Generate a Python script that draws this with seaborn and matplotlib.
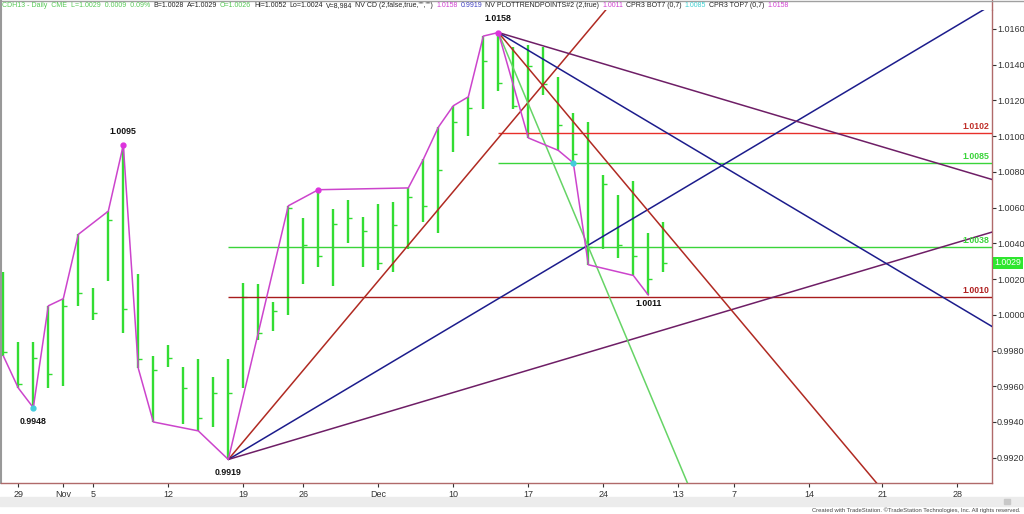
import numpy as np
import pandas as pd
import matplotlib
matplotlib.use("Agg")
import matplotlib.pyplot as plt
from matplotlib.lines import Line2D
from matplotlib.patches import Rectangle
import seaborn as sns

# daily OHLC bars (x = trading day index, 0 = Oct 26 2012 ... 44 = Dec 31 2012)
highs = [1.0024, 0.9985, 0.9985, 1.0005, 1.0009, 1.0045, 1.0015, 1.0058, 1.0095, 1.0023,
         0.9977, 0.9983, 0.9971, 0.9975, 0.9965, 0.9975, 1.0018, 1.0017, 1.0007, 1.0061,
         1.0054, 1.0070, 1.0059, 1.0064, 1.0055, 1.0062, 1.0063, 1.0071, 1.0087, 1.0105,
         1.0117, 1.0122, 1.0156, 1.0158, 1.0150, 1.0151, 1.0150, 1.0133, 1.0113, 1.0108,
         1.0078, 1.0067, 1.0075, 1.0046, 1.0052]
lows = [0.9977, 0.9959, 0.9948, 0.9959, 0.9960, 1.0005, 0.9997, 1.0019, 0.9990, 0.9970,
        0.9940, 0.9971, 0.9939, 0.9935, 0.9937, 0.9919, 0.9959, 0.9986, 0.9991, 1.0000,
        1.0017, 1.0027, 1.0016, 1.0040, 1.0027, 1.0025, 1.0024, 1.0037, 1.0052, 1.0046,
        1.0091, 1.0100, 1.0115, 1.0125, 1.0115, 1.0099, 1.0123, 1.0092, 1.0085, 1.0028,
        1.0037, 1.0032, 1.0022, 1.0011, 1.0024]
closes = [0.9979, 0.9961, 0.9976, 0.9967, 1.0005, 1.0012, 1.0001, 1.0053, 1.0003, 0.9975,
          0.9969, 0.9976, 0.9959, 0.9942, 0.9956, 0.9956, 1.0010, 0.9990, 1.0002, 1.0060,
          1.0039, 1.0033, 1.0051, 1.0054, 1.0047, 1.0029, 1.0050, 1.0066, 1.0061, 1.0081,
          1.0108, 1.0116, 1.0142, 1.0130, 1.0117, 1.0139, 1.0129, 1.0106, 1.0090, 1.0038,
          1.0073, 1.0039, 1.0033, 1.0020, 1.0029]

# trend-point zigzag
zz_idx = [0, 1, 2, 3, 4, 5, 7, 8, 9, 10, 13, 15, 19, 21, 27, 28, 29, 30, 31, 32, 33,
          35, 37, 38, 39, 42, 43]
zz_px = [0.9977, 0.9959, 0.9948, 1.0005, 1.0009, 1.0045, 1.0058, 1.0095, 0.9970, 0.9940,
         0.9935, 0.9919, 1.0061, 1.0070, 1.0071, 1.0087, 1.0105, 1.0117, 1.0122, 1.0156,
         1.0158, 1.0099, 1.0092, 1.0085, 1.0028, 1.0022, 1.0011]

top_idx = [8, 21, 33]
top_px = [1.0095, 1.0070, 1.0158]
bot_idx = [2, 38]
bot_px = [0.9948, 1.0085]

swing_lbl = ["1.0095", "0.9948", "0.9919", "1.0158", "1.0011"]
swing_idx = [8, 2, 15, 33, 43]
swing_val = [1.0095, 0.9948, 0.9919, 1.0158, 1.0011]

# gann fans (price per bar)
low_anchor = (15, 0.9919)
low_rates = [0.0010, 0.0005, 0.00025]
high_anchor = (33, 1.0158)
high_rates = [-0.0020, -0.0010, -0.0005, -0.00025]

# horizontal levels
lvl_val = [1.0102, 1.0085, 1.0038, 1.0010]
lvl_start = [33, 33, 15, 15]

last_px = 1.0029

tick_pos = [1, 4, 6, 11, 16, 20, 25, 30, 35, 40, 45, 48.7, 53.7, 58.6, 63.6]
tick_lbl = ["29", "Nov", "5", "12", "19", "26", "Dec", "10", "17", "24", "'13", "7", "14", "21", "28"]

header = [("CDH13 - Daily  CME  L=1.0029  0.0009  0.09%", "#55c855"),
          ("B=1.0028", "#222222"), ("A=1.0029", "#222222"), ("O=1.0026", "#55c855"),
          ("Hi=1.0052", "#222222"), ("Lo=1.0024", "#222222"), ("V=8,984", "#222222"),
          ('NV CD (2,false,true,"","")', "#222222"), ("1.0158", "#d040d0"), ("0.9919", "#4040c0"),
          ("NV PLOTTRENDPOINTS#2 (2,true)", "#222222"), ("1.0011", "#d040d0"),
          ("CPR3 BOT7 (0,7)", "#222222"), ("1.0085", "#40d0d0"),
          ("CPR3 TOP7 (0,7)", "#222222"), ("1.0158", "#d040d0")]

# colours
bar_c = "#33dd33"
mag = "#cc44cc"
fan_red = "#b02a22"
fan_blue = "#1c1c8c"
fan_purple = "#6e1e66"
fan_green = "#66d466"
axis_c = "#b06a6a"

sns.set_style("white")
plt.rcParams["font.family"] = ["Liberation Sans", "DejaVu Sans"]

W, H = 1024, 514
fig = plt.figure(figsize=(W / 100, H / 100), dpi=100)
ax = fig.add_axes([1 / W, 1 - 482.7 / H, 990.7 / W, 472.7 / H])

idx = np.arange(len(highs))
x_end = 66

# fan lines as long-form table
rows = []
for r, name in zip(low_rates, ["lo_r", "lo_b", "lo_p"]):
    x0, p0 = low_anchor
    rows.append((name, x0, p0))
    rows.append((name, x_end, p0 + r * (x_end - x0)))
for r, name in zip(high_rates, ["hi_g", "hi_r", "hi_b", "hi_p"]):
    x0, p0 = high_anchor
    rows.append((name, x0, p0))
    rows.append((name, x_end, p0 + r * (x_end - x0)))
fan = pd.DataFrame(rows, columns=["line", "x", "y"])
pal = {"lo_r": fan_red, "lo_b": fan_blue, "lo_p": fan_purple,
       "hi_g": fan_green, "hi_r": fan_red, "hi_b": fan_blue, "hi_p": fan_purple}

# bars
ax.vlines(idx, lows, highs, color=bar_c, lw=1.7, zorder=2)
ax.hlines(closes, idx, idx + 0.25, color=bar_c, lw=1.0, zorder=2)

# levels
lvl_cols = ["#e8302a", "#3ad43a", "#3ad43a", "#a81c1c"]
ax.hlines(lvl_val, lvl_start, x_end, colors=lvl_cols, lw=1.0, zorder=3)

sns.lineplot(data=fan, x="x", y="y", hue="line", palette=pal, sort=False,
             estimator=None, legend=False, lw=1.1, ax=ax, zorder=3)
sns.lineplot(x=zz_idx, y=zz_px, sort=False, estimator=None, color=mag, lw=1.1,
             ax=ax, zorder=4)

ax.plot(top_idx, top_px, "o", ms=3.5, color="#dd33dd", zorder=5)
ax.plot(bot_idx, bot_px, "o", ms=3.5, color="#44ccdd", zorder=5)

offs = [-13.3, 14, 13.3, -14.3, 8.3]
for lbl, i, v, o in zip(swing_lbl, swing_idx, swing_val, offs):
    ax.annotate(lbl, (i, v), xytext=(0, -o * 0.72), textcoords="offset points",
                ha="center", va="center", fontsize=6.3, fontweight="bold", color="#111111")

ytr = ax.get_yaxis_transform()
lbl_cols = ["#c0302a", "#3ad43a", "#3ad43a", "#b02020"]
for v, c in zip(lvl_val, lbl_cols):
    ax.annotate(f"{v:.4f}", (0.998, v), xycoords=ytr, xytext=(0, 1.2),
                textcoords="offset points", ha="right", va="bottom",
                fontsize=6.3, fontweight="bold", color=c)

ax.text(1.003, last_px, f"{last_px:.4f}", transform=ytr, ha="left", va="center",
        fontsize=6.3, color="white", zorder=6, clip_on=False,
        bbox=dict(boxstyle="square,pad=0.18", fc="#2ee62e", ec="none"))

ax.set_xlim(-0.153, 65.89)
ax.set_ylim(0.99060, 1.01706)
ax.set_xlabel("")
ax.set_ylabel("")

yt = np.arange(0.9920, 1.01601, 0.002)
ax.set_yticks(yt, [f"{v:.4f}" for v in yt])
ax.set_xticks(tick_pos, tick_lbl)
ax.tick_params(axis="y", left=False, right=True, labelleft=False, labelright=True,
               length=3, width=0.8, pad=0.8, labelsize=6.5, colors="#333333")
ax.tick_params(axis="x", bottom=True, length=3, width=0.8, pad=2, labelsize=6.5,
               colors="#333333")

for s in ["right", "bottom"]:
    ax.spines[s].set_color(axis_c)
    ax.spines[s].set_linewidth(1.0)
ax.spines["top"].set_visible(False)
ax.spines["left"].set_color("#999999")
ax.spines["left"].set_linewidth(1.5)

# frame bits outside the axes
fig.add_artist(Line2D([991.7 / W, 991.7 / W], [1 - 10 / H, 1], color=axis_c, lw=1.0))
fig.add_artist(Line2D([0, 1], [1 - 0.5 / H, 1 - 0.5 / H], color="#a0a0a0", lw=1.0))
fig.add_artist(Line2D([1 / W, 1 / W], [1 - 10 / H, 1], color="#999999", lw=1.5))
fig.add_artist(Rectangle((0, 1 - 506 / H), 1, 9 / H, transform=fig.transFigure,
                         color="#ececec", zorder=0))
fig.add_artist(Rectangle((1004 / W, 1 - 504 / H), 6 / W, 5 / H, transform=fig.transFigure,
                         color="#c8c8c8", zorder=1))

fig.text(1021 / W, 1 - 510 / H, "Created with TradeStation. \u00a9TradeStation Technologies, Inc. All rights reserved.",
         ha="right", va="center", fontsize=4.2, color="#444444")

# header, laid out left to right
renderer = fig.canvas.get_renderer()
xp = 2
for txt, c in header:
    t = fig.text(xp / W, 1 - 5.5 / H, txt, ha="left", va="center", fontsize=5.0, color=c)
    bb = t.get_window_extent(renderer)
    xp = bb.x1 + 3

fig.savefig("out.png", dpi=100)
